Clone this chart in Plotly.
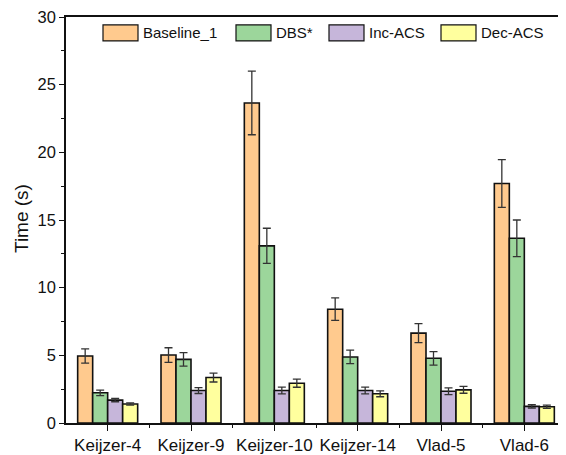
import plotly.graph_objects as go

categories = ["Keijzer-4", "Keijzer-9", "Keijzer-10", "Keijzer-14", "Vlad-5", "Vlad-6"]
series_names = ["Baseline_1", "DBS*", "Inc-ACS", "Dec-ACS"]
baseline = [4.95, 5.02, 23.65, 8.41, 6.64, 17.7]
baseline_err = [0.52, 0.54, 2.35, 0.83, 0.7, 1.76]
dbs = [2.23, 4.7, 13.09, 4.88, 4.78, 13.65]
dbs_err = [0.2, 0.5, 1.3, 0.5, 0.5, 1.35]
inc = [1.69, 2.4, 2.4, 2.4, 2.35, 1.23]
inc_err = [0.12, 0.22, 0.25, 0.25, 0.25, 0.12]
dec = [1.4, 3.36, 2.94, 2.16, 2.45, 1.2]
dec_err = [0.08, 0.33, 0.3, 0.22, 0.25, 0.12]
colors = ["#FFCA8E", "#9CD69B", "#C6B6DA", "#FFFF9E"]
y_ticks = [0, 5, 10, 15, 20, 25, 30]

values = [baseline, dbs, inc, dec]
errors = [baseline_err, dbs_err, inc_err, dec_err]

fig = go.Figure()
for name, v, e, c in zip(series_names, values, errors, colors):
    fig.add_trace(go.Bar(
        x=list(range(len(categories))), y=v, name=name,
        marker=dict(color=c, line=dict(color="#111111", width=1.6)),
        error_y=dict(type="data", array=e, visible=True, color="#333333",
                     thickness=1.3, width=4),
        showlegend=False,
    ))

# custom legend (layout decoration); page body has an 8px margin
W, L, T, H = 500.0, 66.0, 15.0, 408.0
def px(x):
    return (x - L) / W
def py(y):
    return (T + H - y) / H
legend_x = [103, 236, 329, 441]
for name, c, lx in zip(series_names, colors, legend_x):
    fig.add_shape(type="rect", xref="paper", yref="paper",
                  x0=px(lx), x1=px(lx + 35), y0=py(39), y1=py(23),
                  fillcolor=c, line=dict(color="#111111", width=1.2))
    fig.add_annotation(xref="paper", yref="paper", x=px(lx + 38), y=py(31),
                       text=name, showarrow=False, xanchor="left", yanchor="middle",
                       font=dict(size=15, color="#111111", family="Liberation Sans, Arial, sans-serif"))

# y-axis title
fig.add_annotation(xref="paper", yref="paper", x=px(21), y=py(218),
                   text="Time (s)", showarrow=False, textangle=-90,
                   xanchor="center", yanchor="middle",
                   font=dict(size=19, color="#111111", family="Liberation Sans, Arial, sans-serif"))

fig.update_layout(
    width=558, height=447,
    margin=dict(l=58, r=0, t=7, b=32),
    plot_bgcolor="white", paper_bgcolor="white",
    barmode="group", bargap=0.28, bargroupgap=0,
    font=dict(family="Liberation Sans, Arial, sans-serif", size=16, color="#111111"),
)
fig.update_xaxes(
    range=[-0.5, 5.5], tickvals=list(range(len(categories))), ticktext=categories,
    showline=True, linecolor="#111111", linewidth=1.5, mirror=True,
    ticks="outside", ticklen=6, tickwidth=1.3, tickcolor="#111111",
    minor=dict(tickvals=[0.5, 1.5, 2.5, 3.5, 4.5], ticks="outside", ticklen=3, tickwidth=1.3, tickcolor="#111111"),
    showgrid=False, zeroline=False, tickfont=dict(size=17),
)
fig.update_yaxes(
    range=[0, 30], tickvals=y_ticks, ticktext=[str(t) for t in y_ticks],
    ticklabeloverflow="allow",
    showline=True, linecolor="#111111", linewidth=1.5,
    ticks="outside", ticklen=5, tickwidth=1.3, tickcolor="#111111",
    minor=dict(tickvals=[2.5, 7.5, 12.5, 17.5, 22.5, 27.5], ticks="outside", ticklen=3, tickwidth=1.3, tickcolor="#111111"),
    showgrid=False, zeroline=False, tickfont=dict(size=16.5),
)
fig.write_html("out.html")
